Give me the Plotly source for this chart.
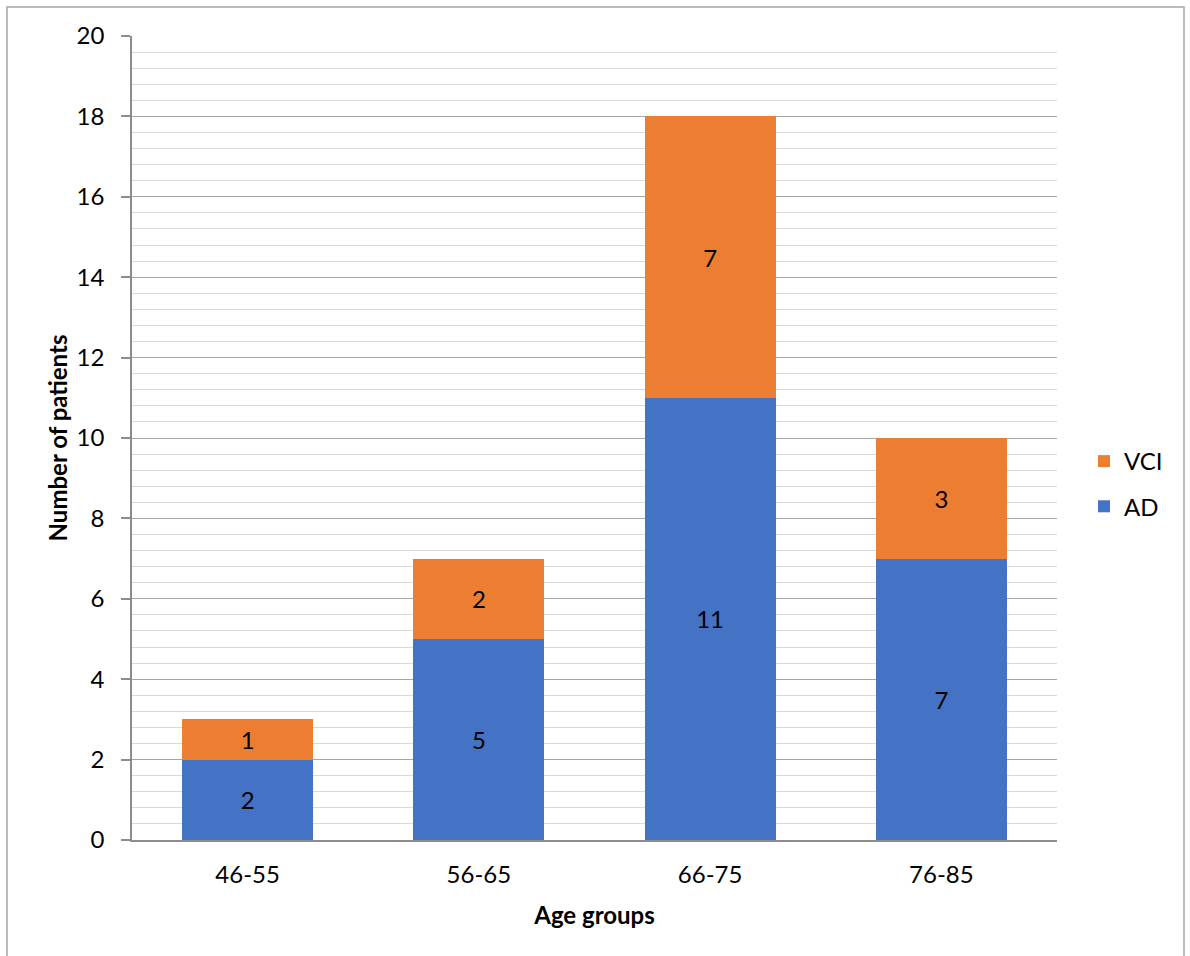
import plotly.graph_objects as go

# Patients per age group, stacked by diagnosis
age_groups = ["46-55", "56-65", "66-75", "76-85"]
ad_counts = [2, 5, 11, 7]
vci_counts = [1, 2, 7, 3]

BLUE = "#4472C4"
ORANGE = "#ED7D31"
FONT = "Lato, Open Sans, sans-serif"
FS = 24

fig = go.Figure()
fig.add_trace(go.Bar(
    x=age_groups, y=ad_counts, name="AD", legendgroup="ad", legendrank=2,
    marker=dict(color=BLUE, line=dict(width=0)),
    text=ad_counts, textposition="inside", insidetextanchor="middle",
    textfont=dict(color="black", size=FS, family=FONT),
))
fig.add_trace(go.Bar(
    x=age_groups, y=vci_counts, name="VCI", legendgroup="vci", legendrank=1,
    marker=dict(color=ORANGE, line=dict(width=0)),
    text=vci_counts, textposition="inside", insidetextanchor="middle",
    textfont=dict(color="black", size=FS, family=FONT),
))

L, R, T, B = 132, 133, 36, 116
W, H = 1190, 956
pw, ph = W - L - R, H - T - B

def px_x(p):
    return (p - L) / pw

def px_y(p):
    return (H - B - p) / ph

fig.update_layout(
    width=W, height=H,
    margin=dict(l=L, r=R, t=T, b=B),
    barmode="stack", bargap=0.433,
    plot_bgcolor="white", paper_bgcolor="white",
    font=dict(family=FONT, size=FS, color="black"),
    uniformtext=dict(mode=False),
    legend=dict(
        x=px_x(1084), y=px_y(439), xanchor="left", yanchor="top",
        traceorder="grouped", font=dict(size=FS, family=FONT),
        itemwidth=30, tracegroupgap=11, bgcolor="rgba(0,0,0,0)",
    ),
    xaxis=dict(
        title=dict(text="<b>Age groups</b>", font=dict(size=FS), standoff=21),
        showline=True, linecolor="#8c8c8c", linewidth=1.5,
        ticks="outside", ticklen=12, tickcolor="rgba(0,0,0,0)",
        showgrid=False, tickfont=dict(size=FS),
    ),
    yaxis=dict(
        title=dict(text="<b>Number of patients</b>", font=dict(size=FS), standoff=2),
        range=[0, 20], dtick=2, showline=True, linecolor="#8c8c8c", linewidth=1.5,
        ticks="outside", ticklen=9, tickcolor="#8c8c8c", tickwidth=1.5,
        ticklabelstandoff=12,
        showgrid=True, gridcolor="#a6a6a6", gridwidth=1.2,
        minor=dict(dtick=0.4, showgrid=True, gridcolor="#d9d9d9", gridwidth=1),
        tickfont=dict(size=FS), zeroline=False,
    ),
    shapes=[dict(
        type="rect", xref="paper", yref="paper",
        x0=px_x(7), x1=px_x(1184), y0=px_y(990), y1=px_y(7),
        line=dict(color="#a6a6a6", width=1.5), fillcolor="rgba(0,0,0,0)", layer="below",
    )],
)

fig.write_html("out.html")
